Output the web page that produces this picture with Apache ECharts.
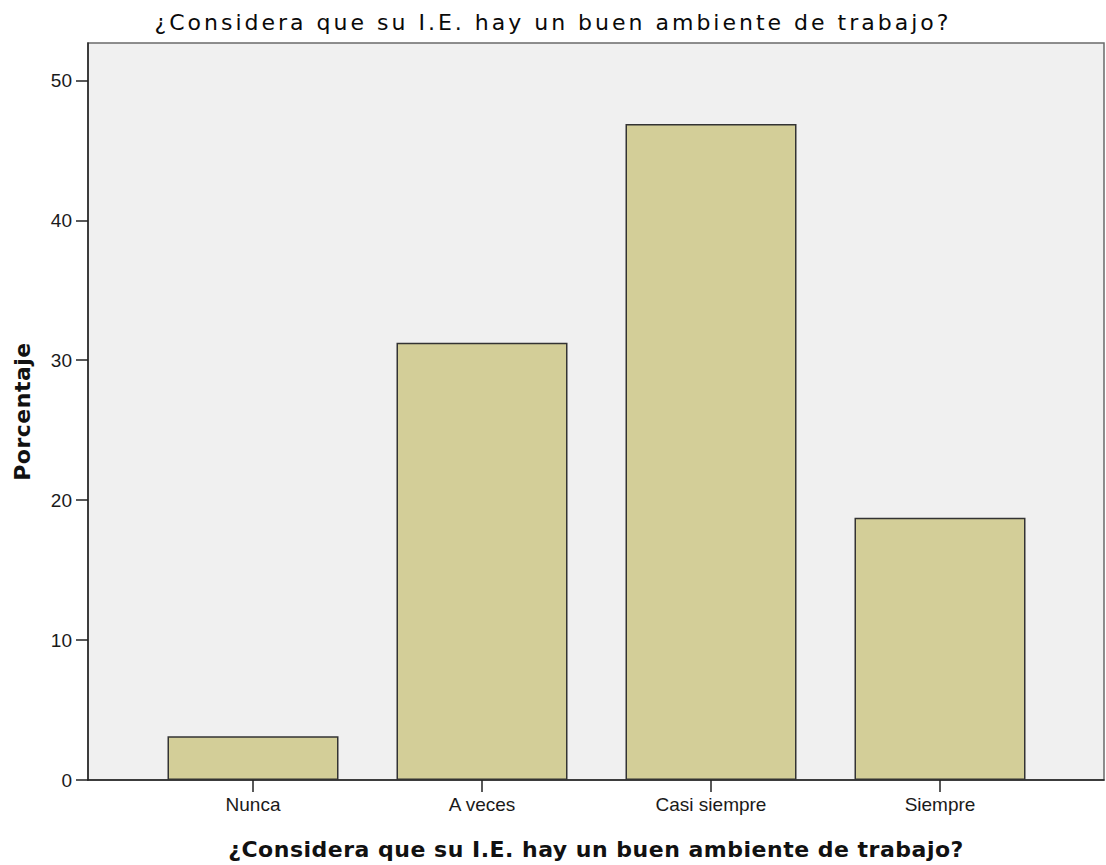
<!DOCTYPE html>
<html>
<head>
<meta charset="utf-8">
<script src="https://cdn.jsdelivr.net/npm/echarts@6/dist/echarts.min.js"></script>
<style>
  html, body { margin: 0; padding: 0; background: #ffffff; }
  #chart { width: 1106px; height: 865px; }
</style>
</head>
<body>
<div id="chart"></div>
<script>
const titleText = "¿Considera que su I.E. hay un buen ambiente de trabajo?";
const xAxisTitle = "¿Considera que su I.E. hay un buen ambiente de trabajo?";
const yAxisTitle = "Porcentaje";
const categories = ["Nunca", "A veces", "Casi siempre", "Siempre"];
const percentages = [3.125, 31.25, 46.875, 18.75];
const yTicks = [0, 10, 20, 30, 40, 50];
const yMax = 52.67;

const chart = echarts.init(document.getElementById('chart'), null, { renderer: 'svg' });

const tickFont = { fontFamily: 'Liberation Sans', fontSize: 19, color: '#1a1a1a' };

chart.setOption({
  animation: false,
  backgroundColor: '#ffffff',
  title: {
    text: titleText,
    left: 'center',
    top: 6,
    textStyle: { fontFamily: 'DejaVu Sans', fontSize: 22, fontWeight: 'normal', color: '#0a0a0a' }
  },
  grid: [
    { left: 88, right: 2, top: 43, bottom: 85, show: true, backgroundColor: '#f0f0f0', borderColor: '#6a6a6a', borderWidth: 1.5 },
    { left: 138.5, right: 51.5, top: 43, bottom: 85 }
  ],
  xAxis: [
    {
      gridIndex: 0, type: 'category', data: [''],
      axisLine: { show: true, lineStyle: { color: '#222', width: 1.5 } },
      axisTick: { show: false }, axisLabel: { show: false },
      name: xAxisTitle, nameLocation: 'middle', nameGap: 58,
      nameTextStyle: { fontFamily: 'DejaVu Sans', fontSize: 22, fontWeight: 'bold', color: '#111' }
    },
    {
      gridIndex: 1, type: 'category', data: categories,
      axisLine: { show: false },
      axisTick: { show: true, alignWithLabel: true, length: 12, lineStyle: { color: '#222', width: 1.5 } },
      axisLabel: Object.assign({ margin: 15 }, tickFont)
    }
  ],
  yAxis: [
    {
      gridIndex: 0, type: 'value', min: 0, max: yMax, interval: 10,
      axisLine: { show: true, lineStyle: { color: '#222', width: 1.5 } },
      axisTick: { show: true, length: 12, customValues: yTicks, lineStyle: { color: '#222', width: 1.5 } },
      axisLabel: Object.assign({ margin: 16, customValues: yTicks }, tickFont),
      splitLine: { show: false },
      name: yAxisTitle, nameLocation: 'middle', nameGap: 55, nameRotate: 90,
      nameTextStyle: { fontFamily: 'DejaVu Sans', fontSize: 22, fontWeight: 'bold', color: '#111' }
    },
    {
      gridIndex: 1, type: 'value', min: 0, max: yMax, show: false,
      splitLine: { show: false }
    }
  ],
  series: [{
    type: 'bar',
    xAxisIndex: 1, yAxisIndex: 1,
    data: percentages,
    barWidth: 171,
    itemStyle: { color: '#d3ce98', borderColor: '#333333', borderWidth: 1.5 }
  }]
});

function applySpacing() {
  const texts = document.querySelectorAll('#chart text');
  texts.forEach(t => {
    if (t.textContent === titleText) {
      const fs = (t.getAttribute('style') || '');
      if (fs.indexOf('bold') >= 0) t.setAttribute('letter-spacing', '0.5');
      else t.setAttribute('letter-spacing', '3');
    } else if (t.textContent === yAxisTitle) {
      t.setAttribute('letter-spacing', '0.5');
    }
  });
}
applySpacing();
chart.on('finished', applySpacing);
setTimeout(applySpacing, 50);
</script>
</body>
</html>
